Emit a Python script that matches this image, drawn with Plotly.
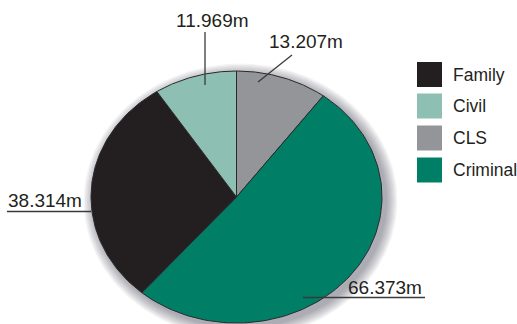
import numpy as np
import plotly.graph_objects as go

categories = ["Family", "Civil", "CLS", "Criminal"]
values = [38.314, 11.969, 13.207, 66.373]
labels = ["38.314m", "11.969m", "13.207m", "66.373m"]
colors = ["#231f20", "#8dbfb2", "#939598", "#007f66"]

W, H = 517, 324
cx, cy, rx, ry = 236.5, 197, 145.5, 126
FONT = "Liberation Sans, Arial, sans-serif"
TXT = "#231f20"

fig = go.Figure()

# soft shadow
for k in range(9):
    t = np.linspace(0, 2 * np.pi, 200)
    grow = 1 + k * 1.3
    fig.add_trace(go.Scatter(
        x=cx + 4 + (rx + grow) * np.sin(t), y=cy + 4 + (ry + grow) * np.cos(t),
        mode="lines", fill="toself", line=dict(width=0),
        fillcolor="rgba(60,60,70,0.055)", hoverinfo="skip", showlegend=False))

# wedges, clockwise from top starting with CLS
order = [2, 3, 0, 1]
total = sum(values)
start = 0.0
for i in order:
    span = values[i] / total * 2 * np.pi
    th = np.linspace(start, start + span, 120)
    xs = np.concatenate([[cx], cx + rx * np.sin(th), [cx]])
    ys = np.concatenate([[cy], cy - ry * np.cos(th), [cy]])
    fig.add_trace(go.Scatter(
        x=xs, y=ys, mode="lines", fill="toself", fillcolor=colors[i],
        line=dict(color="#2a2a2a", width=1), name=categories[i],
        hoverinfo="name", showlegend=False))
    start += span

# legend swatches
leg_y = [74.5, 106, 138, 170]
fig.add_trace(go.Scatter(
    x=[429.5] * 4, y=leg_y, mode="markers",
    marker=dict(symbol="square", size=25, color=colors, line=dict(width=0)),
    hoverinfo="skip", showlegend=False))
for yy, name in zip(leg_y, categories):
    fig.add_annotation(x=451, y=yy, text=name, showarrow=False, xanchor="left",
                       yanchor="middle", font=dict(family=FONT, size=17.5, color=TXT))

# value labels
lab_pos = {
    "11.969m": (212, 20),
    "13.207m": (305.5, 41),
    "38.314m": (45, 200),
    "66.373m": (385, 287),
}
for lab in labels:
    x, y = lab_pos[lab]
    fig.add_annotation(x=x, y=y, text=lab, showarrow=False, xanchor="center",
                       yanchor="middle", font=dict(family=FONT, size=19, color=TXT))

lc = dict(color="#3a3a3a", width=1.3)
fig.add_shape(type="line", x0=205, y0=32, x1=205, y1=85, line=lc)
fig.add_shape(type="line", x0=292, y0=55, x1=258, y1=82, line=lc)
fig.add_shape(type="line", x0=7, y0=211.5, x1=91, y1=211.5, line=lc)
fig.add_shape(type="line", x0=303, y0=297.5, x1=425, y1=297.5, line=lc)

fig.update_layout(
    width=W, height=H, margin=dict(l=0, r=0, t=0, b=0),
    paper_bgcolor="white", plot_bgcolor="white", showlegend=False,
    xaxis=dict(range=[0, W], visible=False, fixedrange=True),
    yaxis=dict(range=[H, 0], visible=False, fixedrange=True),
)
fig.write_html("out.html")
